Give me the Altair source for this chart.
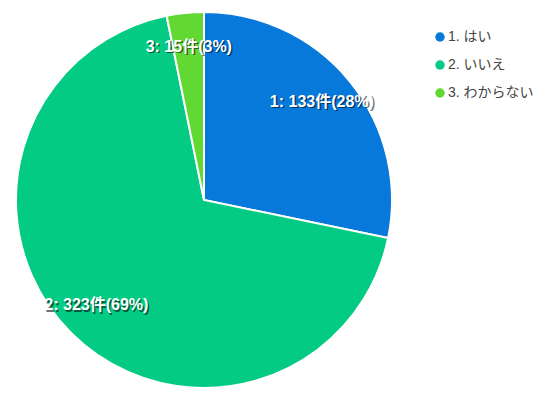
import altair as alt
import pandas as pd

categories = ["1. はい", "2. いいえ", "3. わからない"]
codes = ["1", "2", "3"]
counts = [133, 323, 15]
colors = ["#0779DA", "#04CB84", "#62D932"]

total = sum(counts)
labels = [f"{c}: {v}件({round(v / total * 100)}%)" for c, v in zip(codes, counts)]

df = pd.DataFrame({
    "category": categories,
    "value": counts,
    "idx": list(range(len(categories))),
    "label": labels,
})

FONT = "Liberation Sans, Arial, Noto Sans CJK JP"

base = alt.Chart(df).encode(
    theta=alt.Theta("value:Q", stack=True),
    order=alt.Order("idx:Q"),
)

pie = base.mark_arc(radius=188, stroke="white", strokeWidth=2).encode(
    color=alt.Color(
        "category:N",
        scale=alt.Scale(domain=categories, range=colors),
        legend=alt.Legend(
            title=None,
            orient="none",
            legendX=425,
            legendY=20,
            symbolType="circle",
            symbolSize=90,
            symbolStrokeWidth=0,
            labelFontSize=14,
            labelColor="#444444",
            labelFont=FONT,
            rowPadding=14,
            padding=0,
            labelOffset=1,
        ),
    )
)

shadow = base.mark_text(
    radius=152, dx=1.5, dy=-0.5, fontSize=16, fontWeight="bold",
    font=FONT, color="black", opacity=0.55,
).encode(text="label:N")

text = base.mark_text(
    radius=152, dy=-2, fontSize=16, fontWeight="bold", font=FONT, color="white",
).encode(text="label:N")

chart = alt.layer(pie, shadow, text).properties(
    width=392, height=380, padding=0
).configure_view(stroke=None).configure(background="white")

chart.save("out.html", embed_options={"renderer": "svg", "actions": False})
